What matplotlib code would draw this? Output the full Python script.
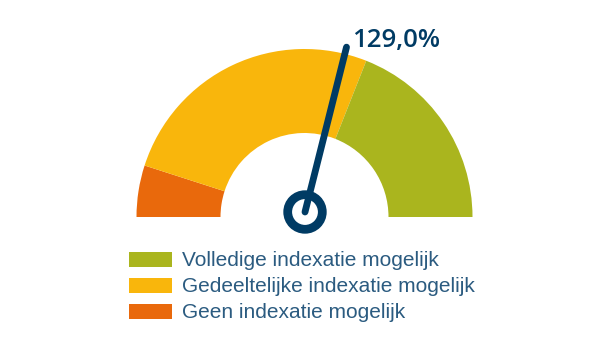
import matplotlib
matplotlib.use("Agg")
from matplotlib import pyplot as plt
from matplotlib.patches import Wedge, Circle, Rectangle
import numpy as np

# gauge data
scale_min = 94.0
scale_max = 154.5
band_edges = [94.0, 100.0, 131.5, 154.5]
band_colors = ['#e9690c', '#f9b60c', '#aab51e']
value = 129.0
value_label = '129,0%'

legend_labels = ['Volledige indexatie mogelijk',
                 'Gedeeltelijke indexatie mogelijk',
                 'Geen indexatie mogelijk']
legend_colors = ['#aab51e', '#f9b60c', '#e9690c']

NAVY = '#003b64'
TXT = '#2b5b80'


def to_angle(v):
    return 180.0 - 180.0 * (v - scale_min) / (scale_max - scale_min)


fig = plt.figure(figsize=(6.08, 3.54), dpi=100)
ax = fig.add_axes([0, 0, 1, 1])
ax.set_xlim(0, 608)
ax.set_ylim(0, 354)
ax.axis('off')

cx, cy = 304.5, 354 - 217
r_out, r_in = 168, 84

for i, col in enumerate(band_colors):
    a1 = to_angle(band_edges[i + 1])
    a2 = to_angle(band_edges[i])
    ax.add_patch(Wedge((cx, cy), r_out, a1, a2, width=r_out - r_in,
                       facecolor=col, edgecolor='none'))

# needle
px, py = 305, 354 - 212
ang = np.deg2rad(to_angle(value))
L = 170
ax.plot([px, px + L * np.cos(ang)], [py, py + L * np.sin(ang)],
        color=NAVY, lw=4.9, solid_capstyle='round', zorder=4)
ax.add_patch(Circle((px, py), 17.3, facecolor='white', edgecolor=NAVY,
                    lw=6.3, zorder=3))

ax.text(352, 354 - 47, value_label, ha='left', va='baseline',
        fontsize=18.5, fontweight='semibold', color=NAVY, family='Open Sans')

# legend
for i, (lab, col) in enumerate(zip(legend_labels, legend_colors)):
    yc = 354 - (259 + 26 * i)
    ax.add_patch(Rectangle((129, yc - 7.5), 43, 15, facecolor=col,
                           edgecolor='none'))
    ax.text(182, yc, lab, ha='left', va='center_baseline', fontsize=15,
            color=TXT, family='Liberation Sans')

fig.savefig('out.png', dpi=100)
